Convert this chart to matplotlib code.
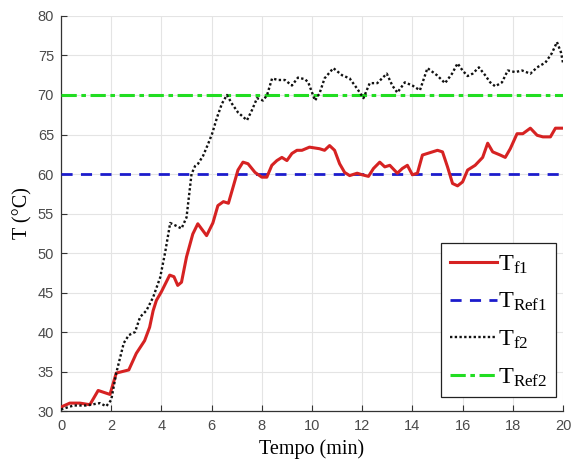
import matplotlib

matplotlib.use("Agg")
import matplotlib.pyplot as plt

# time (min) and temperature (degC) samples for the two fluid temperatures
t_f1 = [0.0, 0.35, 0.75, 1.15, 1.48, 1.95, 2.2, 2.45, 2.7, 3.0, 3.33, 3.53, 3.67, 3.8,
        4.0, 4.33, 4.5, 4.65, 4.8, 5.0, 5.25, 5.45, 5.8, 6.05, 6.25, 6.47, 6.67, 6.87,
        7.05, 7.25, 7.45, 7.73, 8.0, 8.2, 8.4, 8.6, 8.8, 9.0, 9.2, 9.4, 9.6, 9.9, 10.3,
        10.5, 10.7, 10.9, 11.1, 11.3, 11.5, 11.8, 12.0, 12.25, 12.45, 12.7, 12.9, 13.1,
        13.4, 13.6, 13.8, 14.0, 14.2, 14.4, 14.6, 15.0, 15.2, 15.4, 15.6, 15.8, 16.0,
        16.2, 16.5, 16.8, 17.0, 17.2, 17.5, 17.7, 17.9, 18.17, 18.4, 18.7, 18.97, 19.2,
        19.5, 19.7, 20.0]
T_f1 = [30.5, 31.0, 31.0, 30.8, 32.6, 32.1, 34.8, 35.0, 35.2, 37.3, 38.9, 40.6, 42.7, 44.0,
        45.1, 47.2, 47.0, 45.9, 46.3, 49.5, 52.4, 53.7, 52.2, 53.8, 56.0, 56.5, 56.3, 58.5,
        60.5, 61.5, 61.3, 60.2, 59.6, 59.6, 61.1, 61.7, 62.1, 61.7, 62.6, 63.0, 63.0, 63.4, 63.2,
        63.0, 63.6, 63.0, 61.3, 60.2, 59.8, 60.1, 59.9, 59.7, 60.7, 61.5, 60.9, 61.1,
        60.1, 60.7, 61.1, 59.9, 60.1, 62.4, 62.6, 63.0, 62.8, 60.9, 58.8, 58.5, 59.0,
        60.5, 61.1, 62.1, 63.9, 62.8, 62.4, 62.1, 63.2, 65.1, 65.1, 65.8, 64.9, 64.7,
        64.7, 65.8, 65.8]

t_f2 = [0.0, 0.5, 1.0, 1.55, 1.8, 2.0, 2.2, 2.5, 2.7, 2.95, 3.15, 3.4, 3.67, 3.95, 4.15,
        4.35, 4.55, 4.8, 5.0, 5.2, 5.34, 5.46, 5.66, 5.86, 6.02, 6.22, 6.41, 6.61, 6.81,
        7.05, 7.41, 7.61, 7.81, 8.05, 8.21, 8.41, 8.65, 8.92, 9.2, 9.44, 9.72, 9.85, 10.12,
        10.3, 10.5, 10.85, 11.2, 11.5, 11.8, 12.05, 12.3, 12.6, 12.98, 13.2, 13.4, 13.7,
        14.0, 14.3, 14.6, 14.98, 15.3, 15.58, 15.8, 16.0, 16.2, 16.4, 16.65, 16.9, 17.1,
        17.3, 17.57, 17.8, 18.1, 18.37, 18.7, 18.97, 19.3, 19.56, 19.76, 19.92, 20.0]
T_f2 = [30.2, 30.7, 30.7, 31.0, 30.6, 31.4, 34.8, 38.6, 39.6, 40.0, 41.9, 42.7, 44.4, 46.9, 50.1,
        53.8, 53.5, 53.1, 54.5, 60.0, 61.0, 61.3, 62.3, 63.8, 65.1, 67.2, 68.9, 70.0, 68.9,
        67.8, 66.8, 68.1, 69.6, 69.3, 70.0, 72.1, 71.9, 71.9, 71.2, 72.2, 72.0, 71.6, 69.3,
        70.2, 72.1, 73.4, 72.5, 72.1, 70.8, 69.6, 71.5, 71.5, 72.7, 71.2, 70.3, 71.6,
        71.2, 70.6, 73.4, 72.5, 71.5, 72.7, 74.0, 73.1, 72.4, 72.7, 73.5, 72.5, 71.6,
        71.1, 71.6, 73.1, 72.9, 73.1, 72.7, 73.5, 74.1, 75.3, 76.7, 75.4, 74.1]

T_ref1 = 60
T_ref2 = 70
x_ticks = list(range(0, 21, 2))
y_ticks = list(range(30, 81, 5))

plt.rcParams["mathtext.fontset"] = "custom"
plt.rcParams["mathtext.rm"] = "Liberation Serif"
plt.rcParams["mathtext.it"] = "Liberation Serif:italic"

fig = plt.figure(figsize=(5.73, 4.65), dpi=100)
ax = fig.add_axes([0.1065, 0.1161, 0.876, 0.8495])

ax.plot(t_f1, T_f1, color="#d62222", lw=2.2, label=r"$\mathrm{T}_{\mathrm{f1}}$", zorder=4)
ax.axhline(T_ref1, color="#1c1ccc", lw=2.0, ls=(0, (4, 3)), label=r"$\mathrm{T}_{\mathrm{Ref1}}$", zorder=3)
ax.plot(t_f2, T_f2, color="#111111", lw=1.7, ls=(0, (1, 1)), label=r"$\mathrm{T}_{\mathrm{f2}}$", zorder=5)
ax.axhline(T_ref2, color="#22dd22", lw=2.2, ls=(0, (5, 1.5, 1.5, 1.5)), label=r"$\mathrm{T}_{\mathrm{Ref2}}$", zorder=3)

ax.set_xlim(0, 20)
ax.set_ylim(30, 80)
ax.set_xticks(x_ticks)
ax.set_yticks(y_ticks)
ax.grid(True, color="#e4e4e4", lw=0.8)
ax.set_axisbelow(True)
for side in ("top", "right"):
    ax.spines[side].set_visible(False)
for side in ("left", "bottom"):
    ax.spines[side].set_color("#333333")
    ax.spines[side].set_linewidth(0.9)
ax.tick_params(direction="in", length=4, width=0.8, colors="#333333",
               labelcolor="#4a4a4a", labelsize=10.5)
ax.tick_params(axis="x", pad=6)
ax.tick_params(axis="y", pad=5)
for lab in ax.get_xticklabels() + ax.get_yticklabels():
    lab.set_fontfamily("Liberation Sans")

ax.set_xlabel("Tempo (min)", family="Liberation Serif", fontsize=14.5, labelpad=4)
ax.set_ylabel("T (°C)", family="Liberation Serif", fontsize=14.5, labelpad=4)

leg = ax.legend(loc="lower right", bbox_to_anchor=(0.986, 0.035), borderaxespad=0,
                fontsize=17.5, handlelength=1.95, handletextpad=0.05, labelspacing=0.55,
                borderpad=0.35, fancybox=False, framealpha=1, edgecolor="#222222")
leg.get_frame().set_linewidth(0.9)

fig.savefig("out.png", dpi=100)
